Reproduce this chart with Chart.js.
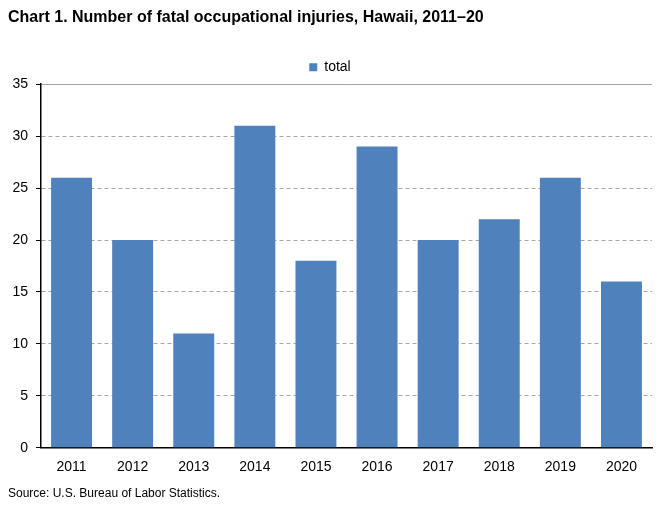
<!DOCTYPE html>
<html>
<head>
    <title>Fatal occupational injuries, Hawaii</title>
    <script src="https://cdn.jsdelivr.net/npm/chart.js"></script>
    <style>
        body { margin: 0; background: #fff; }
        #wrap { width: 660px; height: 505px; }
    </style>
</head>
<body>
<div id="wrap"><canvas id="chart" width="660" height="505"></canvas></div>
<script>
// data
const years = ['2011', '2012', '2013', '2014', '2015', '2016', '2017', '2018', '2019', '2020'];
const totals = [26, 20, 11, 31, 18, 29, 20, 22, 26, 16];
const yTicks = [0, 5, 10, 15, 20, 25, 30, 35];

const font = 'Arial, "Liberation Sans", sans-serif';

new Chart(document.getElementById('chart'), {
    type: 'bar',
    data: {
        labels: years,
        datasets: [{
            label: 'total',
            data: totals,
            backgroundColor: '#4f81bd',
            borderWidth: 0,
            categoryPercentage: 1,
            barPercentage: 0.67
        }]
    },
    options: {
        responsive: false,
        animation: false,
        layout: { padding: { left: 8, right: 8, top: 0, bottom: 4 } },
        plugins: {
            title: {
                display: true,
                text: 'Chart 1. Number of fatal occupational injuries, Hawaii, 2011–20',
                align: 'start',
                color: '#000',
                font: { family: font, size: 16, weight: 'bold' },
                padding: { top: 8, bottom: 33 }
            },
            subtitle: {
                display: true,
                position: 'bottom',
                text: 'Source: U.S. Bureau of Labor Statistics.',
                align: 'start',
                color: '#000',
                font: { family: font, size: 12 },
                padding: { top: 8, bottom: 0 }
            },
            legend: {
                labels: {
                    boxWidth: 8,
                    boxHeight: 8,
                    padding: 0,
                    color: '#000',
                    font: { family: font, size: 14 }
                }
            },
            tooltip: { enabled: false }
        },
        scales: {
            x: {
                grid: { display: false },
                border: { color: '#000', width: 1.5 },
                ticks: { color: '#000', font: { family: font, size: 14 }, padding: 3 }
            },
            y: {
                min: 0,
                max: 35,
                afterBuildTicks: s => { s.ticks = yTicks.map(v => ({ value: v })); },
                afterFit: s => { s.width = 33; },
                grid: { color: '#a6a6a6', tickColor: '#000', tickLength: 5, tickBorderDash: [] },
                border: {
                    color: '#000',
                    width: 1.5,
                    dash: c => (c.tick && c.tick.value === 35) ? [] : [4, 3]
                },
                ticks: { color: '#000', font: { family: font, size: 14 }, padding: 8 }
            }
        }
    }
});
</script>
</body>
</html>
